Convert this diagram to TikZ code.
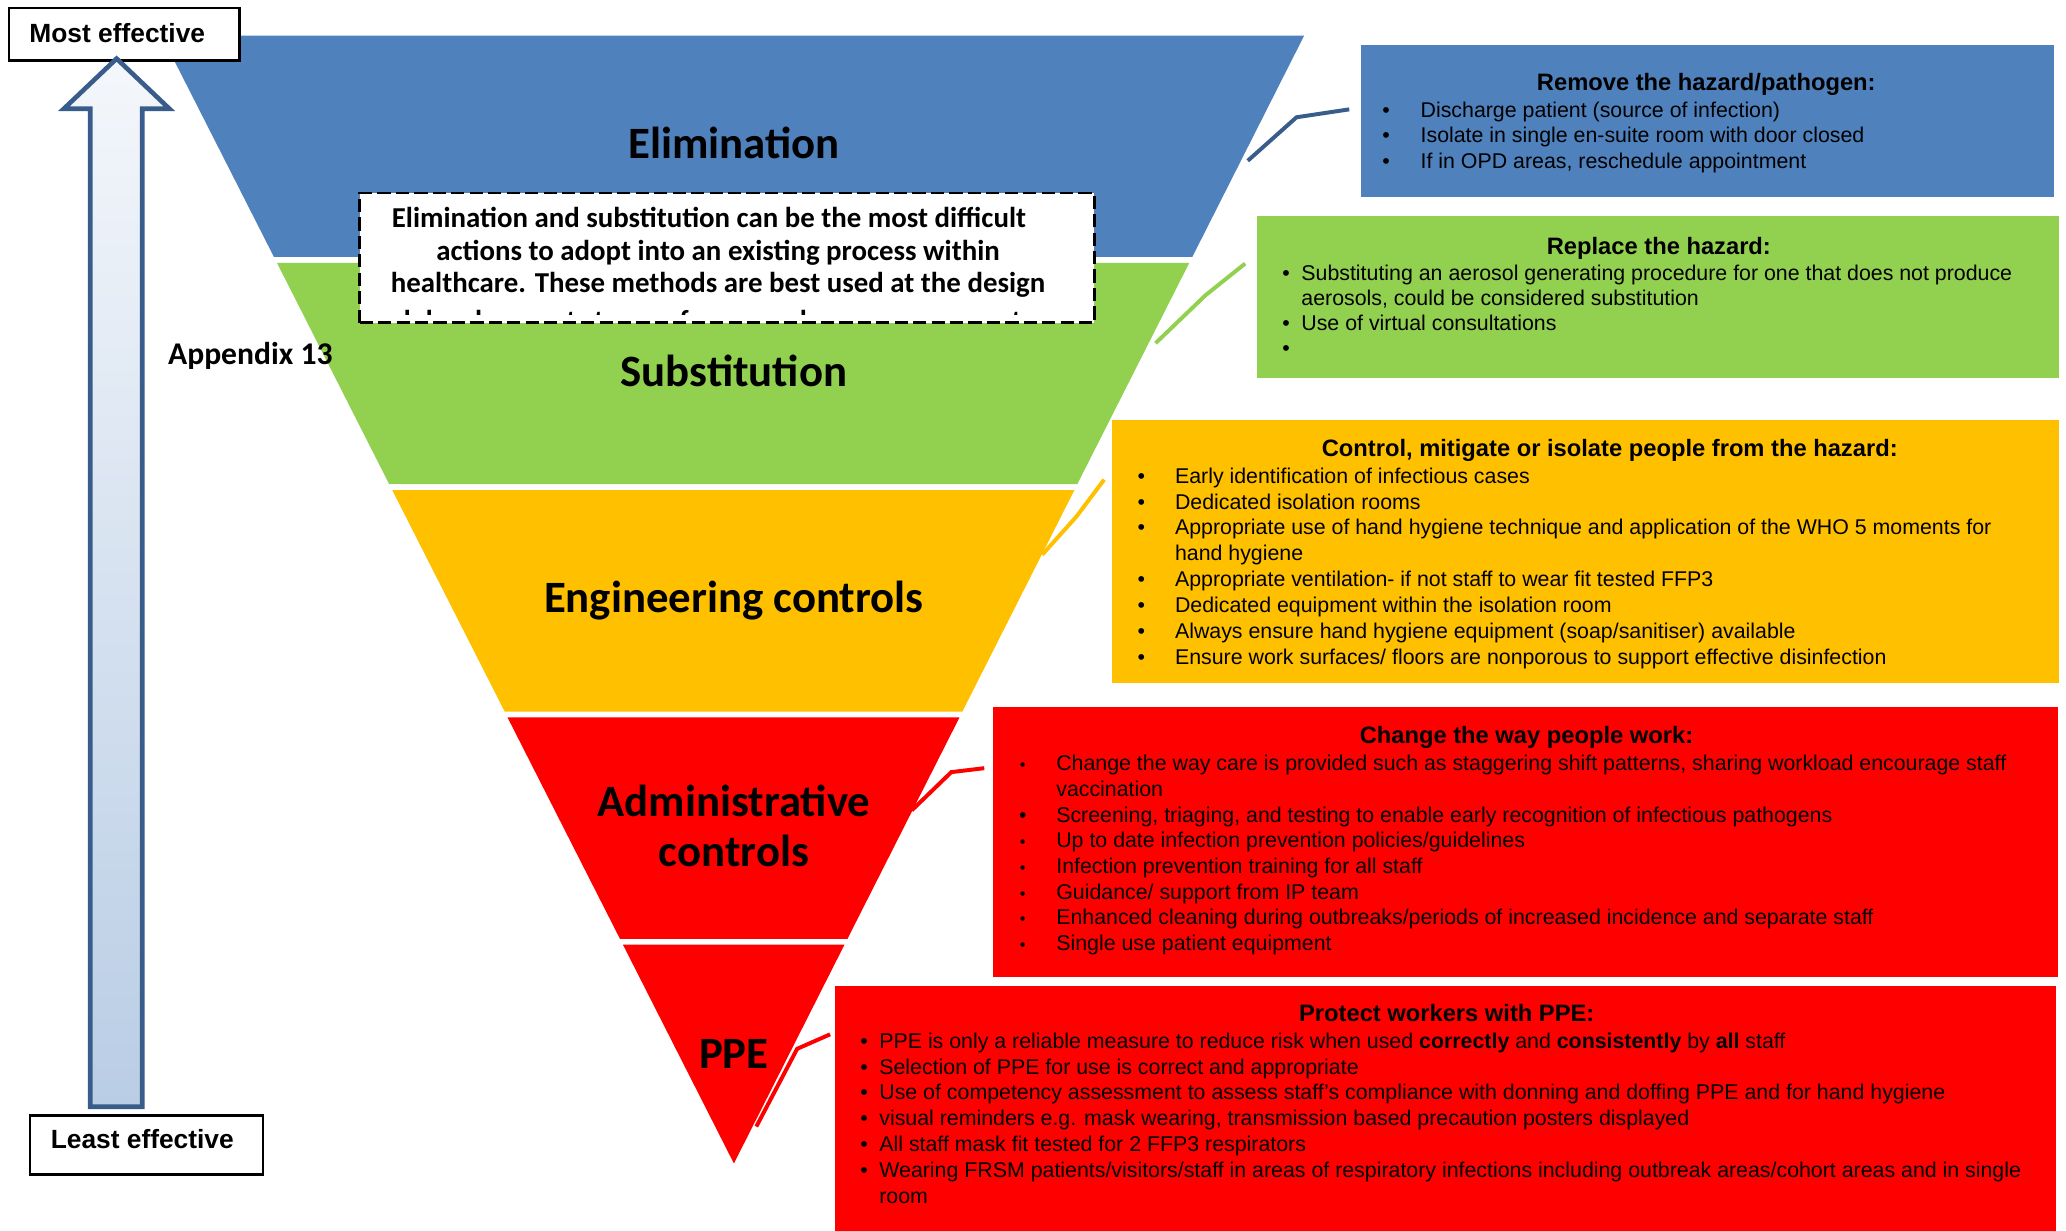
\documentclass[tikz,border=0pt]{standalone}
\usepackage{fontspec}
\setmainfont{Liberation Sans}
\newfontfamily\calibri{Carlito}
\usetikzlibrary{shadings}

\definecolor{elimblue}{HTML}{4F81BD}
\definecolor{subgreen}{HTML}{92D050}
\definecolor{engorange}{HTML}{FFC000}
\definecolor{admred}{HTML}{FF0000}
\definecolor{navyline}{HTML}{385D8A}
\definecolor{arrowtop}{HTML}{F4F7FB}
\definecolor{arrowbot}{HTML}{B9CDE5}

% one bulleted line: name, bullet x, text x, baseline y, text, bullet style
\newcommand\hazitem[6]{%
  \node[#6] (#1b) at (#2,#4) {\textbullet};
  \node[body] (#1) at (#3,#4) {#5};}
% a wrapped continuation line: name, text x, baseline y, text
\newcommand\hazcont[4]{\node[body] (#1) at (#2,#3) {#4};}

\tikzset{
  body/.style={anchor=base west, inner sep=0pt, font=\fontsize{16.2}{19}\selectfont},
  bul/.style={anchor=base, inner sep=0pt, font=\fontsize{16.2}{19}\selectfont},
  bulsm/.style={anchor=base, inner sep=0pt, font=\fontsize{12.5}{15}\selectfont},
  ttl/.style={anchor=base, inner sep=0pt, font=\bfseries\fontsize{18}{21}\selectfont},
  tier/.style={anchor=base, inner sep=0pt, font=\calibri\bfseries\fontsize{34}{40}\selectfont},
  notetext/.style={anchor=base, inner sep=0pt, font=\calibri\bfseries\fontsize{21.9}{24.5}\selectfont},
  endlabel/.style={anchor=base, inner sep=0pt, font=\bfseries\fontsize{20}{24}\selectfont},
  endbox/.style={draw=black, line width=1.7pt, fill=white, anchor=north west, inner sep=0pt},
  panel/.style={anchor=north west, inner sep=0pt, draw=none},
  conn/.style={line width=3pt},
}

\begin{document}
\begin{tikzpicture}[x=1pt, y=-1pt]
\fill[white] (0,0) rectangle (1568,934);
\useasboundingbox (0,0) rectangle (1568,934);

% ---- inverted pyramid, five tiers ----
\fill[elimblue]  (122.6,27) -- (989.8,27) -- (904.9,195) -- (207.9,195) -- cycle;
\fill[subgreen]  (210.2,199.5) -- (902.6,199.5) -- (817.6,367.5) -- (295.4,367.5) -- cycle;
\fill[engorange] (297.7,372) -- (815.4,372) -- (730.4,540) -- (383.0,540) -- cycle;
\fill[admred]    (385.2,544.5) -- (728.2,544.5) -- (643.2,712.5) -- (470.5,712.5) -- cycle;
\fill[admred]    (472.8,717) -- (640.9,717) -- (557,883) -- cycle;

\node[tier] (elim) at (557,120) {Elimination};
\node[tier] (subs) at (557,293.5) {Substitution};
\node[tier] (eng)  at (557,465) {Engineering controls};
\node[tier] (adm1) at (557,620) {Administrative};
\node[tier] (adm2) at (557,658) {controls};
\node[tier] (ppe)  at (557,811) {PPE};

% ---- dashed note over the top two tiers ----
\node[panel, draw=black, fill=white, line width=2pt, dash pattern=on 10pt off 4pt,
      minimum width=557.5pt, minimum height=98.5pt] (note) at (272,145.5) {};
\node[notetext] (n1) at (538,173) {Elimination and substitution can be the most difficult};
\node[notetext] (n2) at (545,198) {actions to adopt into an existing process within};
\node[notetext] (n3) at (545,222) {healthcare. These methods are best used at the design};
\begin{scope}
  % the overflowing fourth line is cut off by the text frame
  \clip (274,147) rectangle (828,238.5);
  \node[notetext] (n4) at (545,250.5) {and development stages of new work processes or systems};
\end{scope}

% ---- connectors from tiers to panels ----
\coordinate (c1a) at (947,122);   \coordinate (c1b) at (984,89);   \coordinate (c1c) at (1024,83);
\coordinate (c2a) at (877,260.5); \coordinate (c2b) at (915,224);  \coordinate (c2c) at (945,200);
\coordinate (c3a) at (791,421);   \coordinate (c3b) at (817,392);  \coordinate (c3c) at (838,364);
\coordinate (c4a) at (692,615);   \coordinate (c4b) at (722,586);  \coordinate (c4c) at (747,583);
\coordinate (c5a) at (574,855);   \coordinate (c5b) at (605,796);  \coordinate (c5c) at (630,785);
\draw[conn, navyline]  (c1a) -- (c1b) -- (c1c);
\draw[conn, subgreen]  (c2a) -- (c2b) -- (c2c);
\draw[conn, engorange] (c3a) -- (c3b) -- (c3c);
\draw[conn, admred]    (c4a) -- (c4b) -- (c4c);
\draw[conn, admred]    (c5a) -- (c5b) -- (c5c);

% ---- panel 1: elimination ----
\node[panel, fill=elimblue, minimum width=526pt, minimum height=115.1pt] (p1) at (1032.6,34.2) {};
\node[ttl] (p1t) at (1295,68.8) {Remove the hazard/pathogen:};
\hazitem{p1l1}{1052}{1078}{89}{Discharge patient (source of infection)}{bul}
\hazitem{p1l2}{1052}{1078}{108.5}{Isolate in single en-suite room with door closed}{bul}
\hazitem{p1l3}{1052}{1078}{128}{If in OPD areas, reschedule appointment}{bul}

% ---- panel 2: substitution ----
\node[panel, fill=subgreen, minimum width=608.8pt, minimum height=122.9pt] (p2) at (954,163.7) {};
\node[ttl] (p2t) at (1259,193.5) {Replace the hazard:};
\hazitem{p2l1}{976}{987.5}{213}{Substituting an aerosol generating procedure for one that does not produce}{bul}
\hazcont{p2l2}{987.5}{232}{aerosols, could be considered substitution}
\hazitem{p2l3}{976}{987.5}{251}{Use of virtual consultations}{bul}
\node[bul] (p2l4b) at (976,270) {\textbullet};

% ---- panel 3: engineering controls ----
\node[panel, fill=engorange, minimum width=718.8pt, minimum height=199.6pt] (p3) at (844,318.8) {};
\node[ttl] (p3t) at (1221.7,346.6) {Control, mitigate or isolate people from the hazard:};
\hazitem{p3l1}{866.3}{891.6}{366.8}{Early identification of infectious cases}{bul}
\hazitem{p3l2}{866.3}{891.6}{386.4}{Dedicated isolation rooms}{bul}
\hazitem{p3l3}{866.3}{891.6}{406}{Appropriate use of hand hygiene technique and application of the WHO 5 moments for}{bul}
\hazcont{p3l4}{891.6}{425.6}{hand hygiene}
\hazitem{p3l5}{866.3}{891.6}{445.2}{Appropriate ventilation- if not staff to wear fit tested FFP3}{bul}
\hazitem{p3l6}{866.3}{891.6}{464.8}{Dedicated equipment within the isolation room}{bul}
\hazitem{p3l7}{866.3}{891.6}{484.4}{Always ensure hand hygiene equipment (soap/sanitiser) available}{bul}
\hazitem{p3l8}{866.3}{891.6}{504}{Ensure work surfaces/ floors are nonporous to support effective disinfection}{bul}

% ---- panel 4: administrative controls ----
\node[panel, fill=admred, minimum width=808pt, minimum height=205pt] (p4) at (753.6,536.3) {};
\node[ttl] (p4t) at (1158.5,564.1) {Change the way people work:};
\hazitem{p4l1}{776.2}{801.5}{584.9}{Change the way care is provided such as staggering shift patterns, sharing workload encourage staff}{bulsm}
\hazcont{p4l2}{801.5}{604.4}{vaccination}
\hazitem{p4l3}{776.2}{801.5}{623.9}{Screening, triaging, and testing to enable early recognition of infectious pathogens}{bul}
\hazitem{p4l4}{776.2}{801.5}{643.4}{Up to date infection prevention policies/guidelines}{bulsm}
\hazitem{p4l5}{776.2}{801.5}{662.9}{Infection prevention training for all staff}{bulsm}
\hazitem{p4l6}{776.2}{801.5}{682.4}{Guidance/ support from IP team}{bulsm}
\hazitem{p4l7}{776.2}{801.5}{701.9}{Enhanced cleaning during outbreaks/periods of increased incidence and separate staff}{bulsm}
\hazitem{p4l8}{776.2}{801.5}{721.4}{Single use patient equipment}{bulsm}

% ---- panel 5: PPE ----
\node[panel, fill=admred, minimum width=926.6pt, minimum height=185.6pt] (p5) at (633.7,748.4) {};
\node[ttl] (p5t) at (1098,775.4) {Protect workers with PPE:};
\hazitem{p5l1}{655.8}{667.2}{795.6}{PPE is only a reliable measure to reduce risk when used \textbf{correctly} and \textbf{consistently} by \textbf{all} staff}{bul}
\hazitem{p5l2}{655.8}{667.2}{815.2}{Selection of PPE for use is correct and appropriate}{bul}
\hazitem{p5l3}{655.8}{667.2}{834.8}{Use of competency assessment to assess staff’s compliance with donning and doffing PPE and for hand hygiene}{bul}
\hazitem{p5l4}{655.8}{667.2}{854.4}{visual reminders e.g. mask wearing, transmission based precaution posters displayed}{bul}
\hazitem{p5l5}{655.8}{667.2}{874}{All staff mask fit tested for 2 FFP3 respirators}{bul}
\hazitem{p5l6}{655.8}{667.2}{893.6}{Wearing FRSM patients/visitors/staff in areas of respiratory infections including outbreak areas/cohort areas and in single}{bul}
\hazcont{p5l7}{667.2}{913.2}{room}

% ---- effectiveness scale ----
\node[endbox, minimum width=175pt, minimum height=39.5pt] (most) at (6,5.5) {};
\node[endlabel] (mostt) at (89,32.4) {Most effective};
\node[endbox, minimum width=176.6pt, minimum height=44.8pt] (least) at (22,845.7) {};
\node[endlabel] (leastt) at (108,872) {Least effective};
\draw[draw=navyline, line width=3.5pt, line join=miter, top color=arrowtop, bottom color=arrowbot]
  (88.5,44.5) -- (128.5,82.5) -- (108,82.5) -- (108,840) -- (68.5,840)
  -- (68.5,82.5) -- (48.5,82.5) -- cycle;

\node[anchor=base, inner sep=0pt, font=\calibri\bfseries\fontsize{24}{28}\selectfont] (app) at (190,277) {Appendix 13};
\end{tikzpicture}
\end{document}
